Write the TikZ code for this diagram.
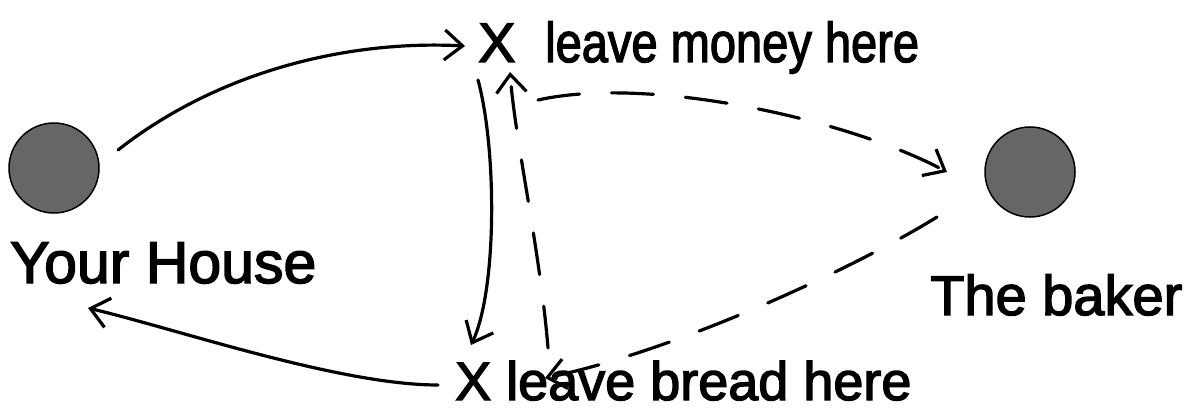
\documentclass[tikz,border=0pt]{standalone}
\usepackage{fontspec}
\setmainfont{Liberation Sans}
\newfontfamily\pen{Liberation Sans}[FakeBold=2.5]
\usetikzlibrary{arrows.meta}
\begin{document}
\begin{tikzpicture}[x=1pt,y=-1pt,
  lbl/.style={anchor=base west,inner sep=0pt},
  spot/.style={circle,draw=black,line width=1.5pt,fill=black!60,minimum size=90pt,inner sep=0pt},
  ink/.style={line width=3.2pt,line cap=round},
  tip/.style={-{Straight Barb[length=18pt,width=30pt,line width=3.2pt]}},
  dsh/.style={dash pattern=on 42pt off 32pt}]
\useasboundingbox (0,0) rectangle (1193,409);
\node[spot] (house) at (54,168) {};
\node[spot] (baker) at (1030,172) {};
\node[lbl,font=\pen\fontsize{59}{64}\selectfont] (houselbl) at (10,283) {Your House};
\node[lbl,font=\pen\fontsize{56}{60}\selectfont] (bakerlbl) at (930,315) {The baker};
\node[lbl,font=\pen\fontsize{56}{60}\selectfont] (mx) at (478,62) {X};
\node[lbl,font=\pen\fontsize{56}{60}\selectfont] (money) at (545,62) {\scalebox{0.84}[1]{leave money here}};
\node[lbl,font=\pen\fontsize{54}{60}\selectfont] (bread) at (455,400) {X leave bread here};
% connector end points
\coordinate (a1) at (118,150);
\coordinate (a2) at (465,46);
\coordinate (b1) at (478,80);
\coordinate (b2) at (471,345);
\coordinate (c1) at (548,348);
\coordinate (c2) at (510,72);
\coordinate (d1) at (538,100);
\coordinate (d2) at (947,172);
\coordinate (e1) at (937,217);
\coordinate (e2) at (545,378);
\coordinate (f1) at (438,385);
\coordinate (f2) at (88,308);
\draw[ink,tip] (a1) .. controls (220,70) and (350,40) .. (a2);
\draw[ink,tip] (b1) .. controls (497,150) and (497,290) .. (b2);
\draw[ink,tip,dsh] (c1) .. controls (540,250) and (515,140) .. (c2);
\draw[ink,tip,dsh] (d1) .. controls (650,75) and (850,120) .. (d2);
\draw[ink,tip,dsh] (e1) .. controls (860,265) and (680,350) .. (e2);
\draw[ink,tip] (f1) .. controls (340,385) and (180,330) .. (f2);
\end{tikzpicture}
\end{document}
